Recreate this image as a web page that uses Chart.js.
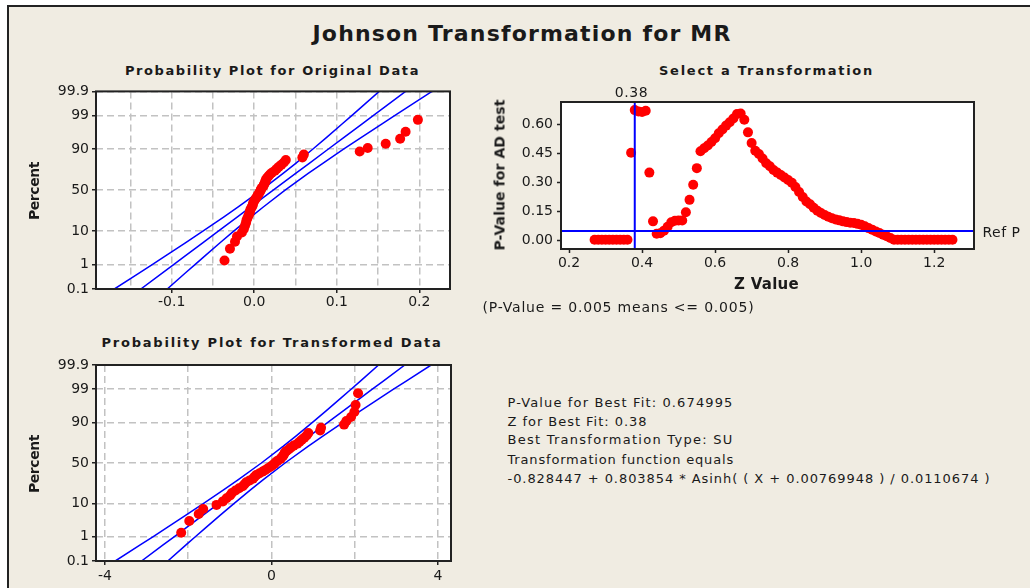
<!DOCTYPE html>
<html><head><meta charset="utf-8">
<script src="https://cdn.jsdelivr.net/npm/chart.js@4.4.1/dist/chart.umd.min.js"></script>
<style>
html,body{margin:0;padding:0;background:#fff;}
#stage{position:relative;width:1030px;height:588px;overflow:hidden;background:#fff;}
#frame{position:absolute;left:7px;top:5px;width:1040px;height:600px;background:#F0ECE2;border-left:2px solid #222;border-top:2px solid #222;}
canvas{position:absolute;}
.txt{position:absolute;left:0;top:0;white-space:nowrap;color:#1a1a1a;margin:0;padding:0;}
</style></head><body>
<div id="stage">
 <div id="frame"></div>
 <canvas id="c1" width="470" height="240" style="left:0;top:80px;width:470px;height:240px"></canvas>
 <canvas id="c2" width="560" height="240" style="left:470px;top:80px;width:560px;height:240px"></canvas>
 <canvas id="c3" width="470" height="238" style="left:0;top:350px;width:470px;height:238px"></canvas>
</div>
<script>
// ---------------- DATA ----------------
const PERCENT = [1.39,3.37,5.36,7.34,9.33,11.31,13.29,15.28,17.26,19.25,21.23,23.21,25.20,27.18,29.17,31.15,33.13,35.12,37.10,39.09,41.07,43.06,45.04,47.02,49.01,50.99,52.98,54.96,56.94,58.93,60.91,62.90,64.88,66.87,68.85,70.83,72.82,74.80,76.79,78.77,80.75,82.74,84.72,86.71,88.69,90.67,92.66,94.64,96.63,98.61];
const ORIG_DATA = [-0.0360,-0.0294,-0.0233,-0.0209,-0.0149,-0.0125,-0.0112,-0.0100,-0.0094,-0.0082,-0.0070,-0.0058,-0.0052,-0.0046,-0.0034,-0.0022,-0.0016,-0.0010,0.0002,0.0015,0.0027,0.0039,0.0051,0.0063,0.0075,0.0081,0.0093,0.0111,0.0117,0.0129,0.0135,0.0141,0.0154,0.0172,0.0190,0.0214,0.0250,0.0274,0.0299,0.0329,0.0359,0.0383,0.0583,0.0601,0.1278,0.1375,0.1593,0.1768,0.1834,0.1983];
const TRANS_DATA = [-2.169,-1.975,-1.748,-1.641,-1.320,-1.167,-1.079,-0.994,-0.951,-0.865,-0.778,-0.691,-0.648,-0.606,-0.523,-0.444,-0.405,-0.367,-0.295,-0.220,-0.155,-0.093,-0.034,0.021,0.074,0.099,0.148,0.217,0.239,0.281,0.301,0.321,0.363,0.418,0.469,0.534,0.622,0.676,0.729,0.788,0.844,0.886,1.170,1.191,1.744,1.799,1.912,1.991,2.020,2.080];

const BAND_PERCENT = [0.1,0.5,1,2,5,10,20,30,50,70,80,90,95,98,99,99.5,99.9];
const ORIG_CI_UPPER = [-0.1694,-0.1386,-0.1236,-0.1075,-0.0834,-0.0622,-0.0371,-0.0194,0.0086,0.0350,0.0503,0.0708,0.0874,0.1057,0.1178,0.1288,0.1514];
const ORIG_FIT      = [-0.1374,-0.1107,-0.0977,-0.0836,-0.0624,-0.0435,-0.0207,-0.0042,0.0230,0.0502,0.0667,0.0895,0.1084,0.1296,0.1437,0.1567,0.1834];
const ORIG_CI_LOWER = [-0.1054,-0.0828,-0.0718,-0.0597,-0.0414,-0.0248,-0.0043,0.0110,0.0374,0.0654,0.0831,0.1082,0.1294,0.1535,0.1696,0.1846,0.2154];
const TRANS_CI_UPPER = [-3.753,-3.145,-2.850,-2.531,-2.056,-1.639,-1.143,-0.796,-0.243,0.278,0.579,0.985,1.312,1.673,1.912,2.129,2.573];
const TRANS_FIT      = [-3.122,-2.596,-2.340,-2.061,-1.643,-1.271,-0.820,-0.496,0.041,0.578,0.902,1.353,1.725,2.143,2.422,2.678,3.204];
const TRANS_CI_LOWER = [-2.491,-2.047,-1.830,-1.591,-1.230,-0.903,-0.497,-0.196,0.325,0.878,1.225,1.721,2.138,2.613,2.932,3.227,3.835];

const Z_VALUES = [0.27,0.28,0.29,0.30,0.31,0.32,0.33,0.34,0.35,0.36,
 0.37,0.38,0.39,0.40,0.41,0.42,0.43,0.44,0.45,0.46,
 0.47,0.48,0.49,0.50,0.51,0.52,0.53,0.54,0.55,0.56,
 0.57,0.58,0.59,0.60,0.61,0.62,0.63,0.64,0.65,0.66,
 0.67,0.68,0.69,0.70,0.71,0.72,0.73,0.74,0.75,0.76,
 0.77,0.78,0.79,0.80,0.81,0.82,0.83,0.84,0.85,0.86,
 0.87,0.88,0.89,0.90,0.91,0.92,0.93,0.94,0.95,0.96,
 0.97,0.98,0.99,1.00,1.01,1.02,1.03,1.04,1.05,1.06,
 1.07,1.08,1.09,1.10,1.11,1.12,1.13,1.14,1.15,1.16,
 1.17,1.18,1.19,1.20,1.21,1.22,1.23,1.24,1.25];
const P_VALUES = [0.005,0.005,0.005,0.005,0.005,0.005,0.005,0.005,0.005,0.005,
 0.455,0.675,0.668,0.665,0.672,0.352,0.100,0.036,0.038,0.052,
 0.072,0.095,0.103,0.104,0.104,0.147,0.211,0.289,0.375,0.462,
 0.478,0.492,0.510,0.530,0.555,0.575,0.595,0.612,0.632,0.655,
 0.658,0.625,0.560,0.505,0.465,0.448,0.425,0.400,0.385,0.365,
 0.352,0.340,0.327,0.314,0.300,0.278,0.252,0.226,0.203,0.188,
 0.170,0.155,0.143,0.133,0.124,0.116,0.110,0.105,0.100,0.096,
 0.093,0.091,0.087,0.082,0.074,0.065,0.057,0.048,0.040,0.031,
 0.023,0.014,0.005,0.005,0.005,0.005,0.005,0.005,0.005,0.005,
 0.005,0.005,0.005,0.005,0.005,0.005,0.005,0.005,0.005];
const BEST_Z = 0.38;
const REF_P = 0.05;

const PCT_TICKS = [0.1,1,10,50,90,99,99.9];
const ORIG_X_TICKS = [-0.15,-0.1,-0.05,0,0.05,0.1,0.15,0.2];
const ORIG_X_LABELS = ['','-0.1','','0.0','','0.1','','0.2'];
const TRANS_X_TICKS = [-4,-2,0,2,4];
const TRANS_X_LABELS = ['-4','','0','','4'];
const Z_TICKS = [0.2,0.4,0.6,0.8,1.0,1.2];
const P_TICKS = [0,0.15,0.30,0.45,0.60];

// ---------------- probability (normal) scale ----------------
function probit(p){
 const a=[-3.969683028665376e+01,2.209460984245205e+02,-2.759285104469687e+02,1.383577518672690e+02,-3.066479806614716e+01,2.506628277459239e+00];
 const b=[-5.447609879822406e+01,1.615858368580409e+02,-1.556989798598866e+02,6.680131188771972e+01,-1.328068155288572e+01];
 const c=[-7.784894002430293e-03,-3.223964580411365e-01,-2.400758277161838e+00,-2.549732539343734e+00,4.374664141464968e+00,2.938163982698783e+00];
 const d=[7.784695709041462e-03,3.224671290700398e-01,2.445134137142996e+00,3.754408661907416e+00];
 const pl=0.02425, ph=1-pl; let q,r;
 if(p<pl){q=Math.sqrt(-2*Math.log(p));return (((((c[0]*q+c[1])*q+c[2])*q+c[3])*q+c[4])*q+c[5])/((((d[0]*q+d[1])*q+d[2])*q+d[3])*q+1);}
 if(p<=ph){q=p-0.5;r=q*q;return (((((a[0]*r+a[1])*r+a[2])*r+a[3])*r+a[4])*r+a[5])*q/(((((b[0]*r+b[1])*r+b[2])*r+b[3])*r+b[4])*r+1);}
 q=Math.sqrt(-2*Math.log(1-p));return -(((((c[0]*q+c[1])*q+c[2])*q+c[3])*q+c[4])*q+c[5])/((((d[0]*q+d[1])*q+d[2])*q+d[3])*q+1);
}
function normCdf(z){
 const t=1/(1+0.2316419*Math.abs(z));
 const y=t*(0.319381530+t*(-0.356563782+t*(1.781477937+t*(-1.821255978+t*1.330274429))));
 const p=1-Math.exp(-z*z/2)/Math.sqrt(2*Math.PI)*y;
 return z>=0?p:1-p;
}
class ProbitScale extends Chart.Scale {
  static id = 'probit';
  static defaults = {};
  parse(raw, index){ const v = Chart.LinearScale.prototype.parse.apply(this,[raw,index]); return isFinite(v) && v>0 && v<100 ? v : null; }
  determineDataLimits(){ this.min = this.options.min; this.max = this.options.max; }
  buildTicks(){ return PCT_TICKS.map(v => ({value: v})); }
  getLabelForValue(v){ return String(v); }
  configure(){
    super.configure();
    this._z0 = probit(this.min/100);
    this._zr = probit(this.max/100) - this._z0;
  }
  getPixelForValue(v){
    if (v === undefined || v === null) v = this.min;
    return this.getPixelForDecimal((probit(v/100) - this._z0)/this._zr);
  }
  getValueForPixel(px){
    const dec = this.getDecimalForPixel(px);
    return 100*normCdf(this._z0 + dec*this._zr);
  }
}
Chart.register(ProbitScale);

Chart.defaults.font.family = '"DejaVu Sans", sans-serif';
Chart.defaults.font.size = 14;
Chart.defaults.color = '#1a1a1a';

const INK = '#222';
const GRID = '#C2C2C2';
const DASH = [7,4];
const RED = '#FF0000';
const BLUE = '#0000FF';

const plotFrame = {
  id: 'plotFrame',
  beforeDraw(chart){
    const {ctx, chartArea:{left,top,right,bottom}} = chart;
    ctx.save(); ctx.fillStyle = '#fff'; ctx.fillRect(left, top, right-left, bottom-top); ctx.restore();
  },
  afterDraw(chart){
    const {ctx, chartArea:{left,top,right,bottom}} = chart;
    ctx.save(); ctx.strokeStyle = INK; ctx.lineWidth = 2; ctx.strokeRect(left, top, right-left, bottom-top); ctx.restore();
  }
};

function pairs(xs, ys){ return xs.map((x,i)=>({x:x, y:ys[i]})); }
function bandLine(xs){ return {data: pairs(xs, BAND_PERCENT), showLine:true, pointRadius:0, borderColor:BLUE, borderWidth:1.5, tension:0, fill:false}; }

function probChart(id, xs, up, fit, lo, xmin, xmax, xTicks, xLabels, pad, xH, xPad){
  return new Chart(document.getElementById(id), {
    type:'scatter',
    data:{datasets:[
      {data: pairs(xs, PERCENT), pointRadius:5, pointBackgroundColor:RED, pointBorderWidth:0, backgroundColor:RED},
      bandLine(up), bandLine(fit), bandLine(lo)
    ]},
    options:{
      responsive:false, animation:false, events:[],
      layout:{padding:pad},
      plugins:{legend:{display:false}, tooltip:{enabled:false}},
      scales:{
        x:{type:'linear', min:xmin, max:xmax,
           afterBuildTicks:s=>{ s.ticks = xTicks.map(v=>({value:v})); },
           afterFit:s=>{ s.height = xH; },
           ticks:{callback:(v,i)=>xLabels[i], padding:xPad, maxRotation:0, autoSkip:false},
           grid:{color:GRID, lineWidth:1.5, tickLength:4, tickWidth:1.5, tickColor:c=>xLabels[c.index]?INK:'rgba(0,0,0,0)'},
           border:{display:false, dash:DASH}},
        y:{type:'probit', min:0.1, max:99.9,
           afterFit:s=>{ s.width = 60; },
           ticks:{padding:3, autoSkip:false},
           grid:{color:GRID, lineWidth:1.5, tickLength:4, tickWidth:1.5, tickColor:INK},
           border:{display:false, dash:DASH}}
      }
    },
    plugins:[plotFrame]
  });
}

probChart('c1', ORIG_DATA, ORIG_CI_UPPER, ORIG_FIT, ORIG_CI_LOWER, -0.1917, 0.2372, ORIG_X_TICKS, ORIG_X_LABELS,
  {left:36, top:10, right:20, bottom:2}, 29, 1);
probChart('c3', TRANS_DATA, TRANS_CI_UPPER, TRANS_FIT, TRANS_CI_LOWER, -4.216, 4.313, TRANS_X_TICKS, TRANS_X_LABELS,
  {left:36, top:15, right:19, bottom:1}, 26, 3);

new Chart(document.getElementById('c2'), {
  type:'scatter',
  data:{datasets:[
    {data:[{x:BEST_Z, y:-1},{x:BEST_Z, y:1}], showLine:true, pointRadius:0, borderColor:BLUE, borderWidth:2},
    {data:[{x:0, y:REF_P},{x:2, y:REF_P}], showLine:true, pointRadius:0, borderColor:BLUE, borderWidth:2},
    {data: pairs(Z_VALUES, P_VALUES), pointRadius:5, pointBackgroundColor:RED, pointBorderWidth:0, backgroundColor:RED}
  ]},
  options:{
    responsive:false, animation:false, events:[],
    layout:{padding:{left:41, top:22, right:56, bottom:46}},
    plugins:{legend:{display:false}, tooltip:{enabled:false}},
    scales:{
      x:{type:'linear', min:0.178, max:1.309,
         afterBuildTicks:s=>{ s.ticks = Z_TICKS.map(v=>({value:v})); },
         afterFit:s=>{ s.height = 25; },
         ticks:{callback:v=>v.toFixed(1), padding:2, maxRotation:0, autoSkip:false},
         grid:{drawOnChartArea:false, tickLength:4, tickWidth:1.5, tickColor:INK},
         border:{display:false}},
      y:{type:'linear', min:-0.043, max:0.717,
         afterBuildTicks:s=>{ s.ticks = P_TICKS.map(v=>({value:v})); },
         afterFit:s=>{ s.width = 50; },
         ticks:{callback:v=>v.toFixed(2), padding:4, autoSkip:false},
         grid:{drawOnChartArea:false, tickLength:4, tickWidth:1.5, tickColor:INK},
         border:{display:false}}
    }
  },
  plugins:[plotFrame]
});

// ---------------- TEXT ----------------
const stage = document.getElementById('stage');
function addText(str, o){
  const el = document.createElement('div');
  el.className = 'txt';
  el.textContent = str;
  el.style.font = (o.bold ? 'bold ' : '') + o.size + 'px "DejaVu Sans", sans-serif';
  el.style.lineHeight = o.size + 'px';
  stage.appendChild(el);
  if (o.width){
    const w0 = el.getBoundingClientRect().width;
    const n = Array.from(str).length;
    el.style.letterSpacing = ((o.width - w0) / n) + 'px';
  }
  const w = el.getBoundingClientRect().width;
  if (o.rotate){
    el.style.left = (o.cx - w/2) + 'px';
    el.style.top = (o.cy - o.size/2) + 'px';
    el.style.transformOrigin = 'center center';
    el.style.transform = 'rotate(-90deg)';
  } else {
    const left = (o.cx !== undefined) ? o.cx - w/2 : o.left;
    el.style.left = left + 'px';
    el.style.top = (o.baseline - 0.846*o.size) + 'px';
  }
}
addText('Johnson Transformation for MR', {cx:522, baseline:42, size:22, bold:true, width:419});
addText('Probability Plot for Original Data', {cx:272.5, baseline:75, size:13, bold:true, width:295});
addText('Select a Transformation', {cx:766.5, baseline:75, size:13, bold:true, width:215});
addText('Probability Plot for Transformed Data', {cx:272, baseline:347.3, size:13, bold:true, width:341});
addText('Percent', {cx:33.8, cy:191.3, size:14, bold:true, width:58, rotate:true});
addText('Percent', {cx:33.8, cy:464.2, size:14, bold:true, width:58, rotate:true});
addText('P-Value for AD test', {cx:499.5, cy:175, size:14, bold:true, width:151, rotate:true});
addText('Z Value', {cx:766.5, baseline:289.3, size:15, bold:true, width:65});
addText('0.38', {cx:631.5, baseline:96.7, size:14, width:33.5});
addText('Ref P', {left:982.5, baseline:237.3, size:14, width:38});
addText('(P-Value = 0.005 means <= 0.005)', {left:482.5, baseline:312, size:14, width:272});
addText('P-Value for Best Fit: 0.674995', {left:507.5, baseline:407.3, size:13, width:226});
addText('Z for Best Fit: 0.38', {left:507.5, baseline:425.7, size:13, width:140});
addText('Best Transformation Type: SU', {left:507.5, baseline:444.3, size:13, width:226});
addText('Transformation function equals', {left:507.5, baseline:464, size:13, width:226.5});
addText('-0.828447 + 0.803854 * Asinh( ( X + 0.00769948 ) / 0.0110674 )', {left:507.5, baseline:483.3, size:13, width:483});
</script>
</body></html>
